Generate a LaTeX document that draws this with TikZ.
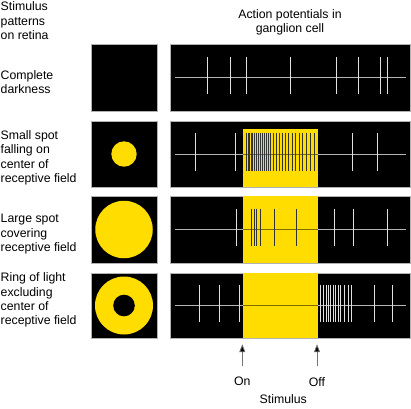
\documentclass[tikz,border=0pt]{standalone}
\usepackage{fontspec}
\setmainfont{Liberation Sans}
\usetikzlibrary{arrows.meta, positioning}

\definecolor{spotyellow}{HTML}{FFDD00}
\definecolor{tracegray}{HTML}{B4B4B4}
\definecolor{spikegray}{HTML}{E0E0E0}
\definecolor{traceolive}{HTML}{7E6C00}

\begin{document}
\begin{tikzpicture}[
    x=1pt, y=-1pt,
    txt/.style={inner sep=0pt,font=\fontsize{12.3}{14.3}\selectfont},
    lbl/.style={txt,anchor=north west,align=left},
    patch/.style={draw=gray!60,fill=black,line width=0.5pt,minimum width=66pt,inner sep=0pt},
    panel/.style={draw=gray!60,fill=black,line width=0.5pt,minimum width=240pt,inner sep=0pt},
    lit/.style={fill=spotyellow,inner sep=0pt,minimum width=75pt},
    spot/.style={circle,fill=spotyellow,inner sep=0pt},
    trace/.style={draw=tracegray,line width=1pt},
    litrace/.style={draw=traceolive,line width=1pt},
    spk/.style={draw=spikegray,line width=1pt},
    dspk/.style={draw=black!80,line width=1pt},
    pointer/.style={draw=black!55,line width=0.8pt,-{Triangle[length=8pt,width=6pt,fill=black]}}]
  \useasboundingbox (0,0) rectangle (411,408);

  % headers
  \node[lbl] (hstim) at (0.5,1.7) {Stimulus\\patterns\\on retina};
  \node[txt,anchor=north,align=center] (hap) at (290,9.3) {Action potentials in\\ganglion cell};

  % row labels
  \node[lbl] (lab1) at (0.5,70.3) {Complete\\darkness};
  \node[lbl] (lab2) at (0.5,130.3) {Small spot\\falling on\\center of\\receptive field};
  \node[lbl] (lab3) at (0.5,214.3) {Large spot\\covering\\receptive field};
  \node[lbl] (lab4) at (0.5,272.7) {Ring of light\\excluding\\center of\\receptive field};

  % retina patches
  \node[patch,minimum height=67pt] (ret1) at (124,77.5) {};
  \node[patch,minimum height=66pt] (ret2) at (124,154) {};
  \node[spot,minimum size=25.4pt] (spot2) at (ret2) {};
  \node[patch,minimum height=67pt] (ret3) at (124,229.5) {};
  \node[spot,minimum size=57.5pt] (spot3) at (ret3) {};
  \node[patch,minimum height=65pt] (ret4) at (124,305.5) {};
  \node[spot,minimum size=58pt] (ring4) at (ret4) {};
  \node[circle,fill=black,inner sep=0pt,minimum size=21.6pt] (hole4) at (ret4) {};

  % recording panels
  \node[panel,minimum height=67pt] (ap1) at (290,77.5) {};
  \node[panel,minimum height=66pt] (ap2) at (290,154) {};
  \node[lit,minimum height=57.7pt] (lit2) at (280.2,158.2) {};
  \node[panel,minimum height=67pt] (ap3) at (290,229.5) {};
  \node[lit,minimum height=67pt] (lit3) at (280.2,229.5) {};
  \node[panel,minimum height=65pt] (ap4) at (290,305.5) {};
  \node[lit,minimum height=65pt] (lit4) at (280.2,305.5) {};

  % base lines
  \foreach \r in {1,...,4}
    \draw[trace] ([xshift=5pt]ap\r.west) -- ([xshift=-4pt]ap\r.east);
  \foreach \r in {2,3,4}
    \draw[litrace] (lit\r.west |- ap\r) -- (lit\r.east |- ap\r);

  % spikes
  \foreach \x in {207.3,230,246.3,290.7,336.7,358.7,380.3,387.3}
    \draw[spk] (\x,77.5-21) -- (\x,77.5+16.5);
  \foreach \x in {195,235.7,352.7,377}
    \draw[spk] (\x,154-21) -- (\x,154+16.5);
  \foreach \x in {246.7,248.3,249.5,251,252.3,254,256,258.3,260.3,262.3,264.3,
                  266.7,268.7,270.7,273.3,276,279.3,282.7,285.7,288.7,292,295.3,
                  299,302.7,306.3,310,314}
    \draw[dspk] (\x,154-21) -- (\x,154+16.5);
  \foreach \x in {236.3,334,353,387.3}
    \draw[spk] (\x,229.5-21) -- (\x,229.5+16.5);
  \foreach \x in {251.3,254,256.7,260,274.3,296}
    \draw[dspk] (\x,229.5-21) -- (\x,229.5+16.5);
  \foreach \x in {199,219.3,239.3,320.7,323.3,326,328.3,330.7,333.3,335.7,338.3,
                  340.3,344.3,348.3,351.7,374,392.7}
    \draw[spk] (\x,305.5-21) -- (\x,305.5+16.5);

  % stimulus markers
  \node[txt] (on) at (242.3,381.7) {On};
  \node[txt] (off) at (317,381.7) {Off};
  \node[txt] (stim) at (283.3,399.3) {Stimulus};
  \draw[pointer,shorten <=11pt,shorten >=6pt] (on) -- (on |- lit4.south);
  \draw[pointer,shorten <=11pt,shorten >=6pt] (off) -- (off |- lit4.south);
\end{tikzpicture}
\end{document}
